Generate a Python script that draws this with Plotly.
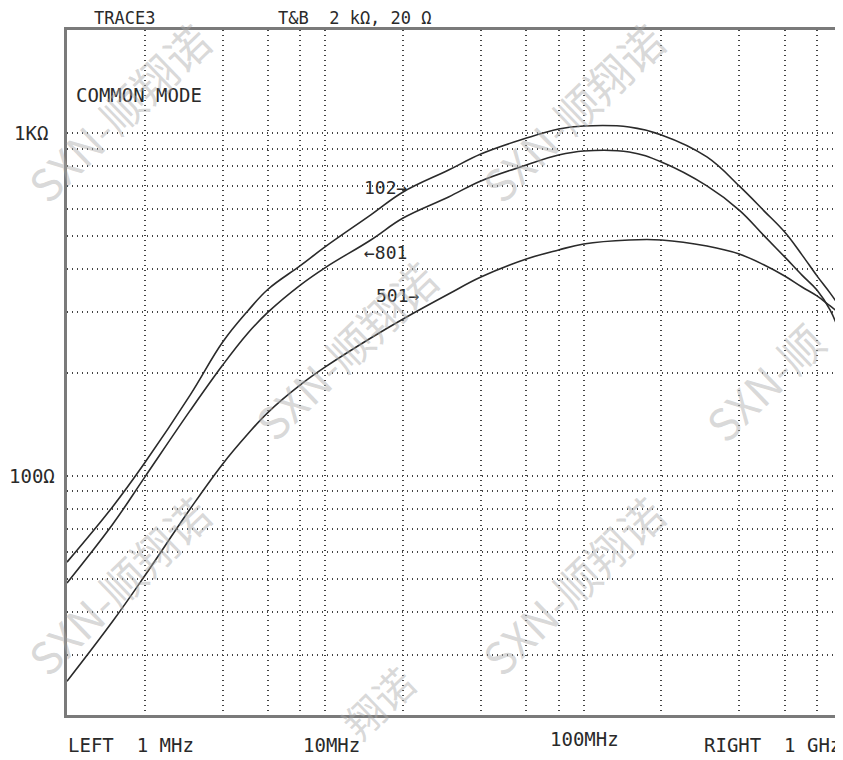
import numpy as np
import plotly.graph_objects as go

# ---- data (frequency in MHz, impedance in ohms) ----
freq_mhz = [1, 1.5, 2, 3, 4, 5, 6, 8, 10, 15, 20, 30, 40, 60, 80, 100,
            150, 200, 300, 400, 500, 600, 700, 800, 900, 1000]
z_102 = [55.9, 81, 109, 172, 245, 302, 350, 410, 466, 577, 673, 780, 869,
         967, 1028, 1049, 1042, 988, 852, 701, 592, 514, 441, 383, 341, 304]
z_801 = [48.6, 72, 99, 155, 210, 260, 300, 360, 405, 487.5, 565, 651, 725,
         807, 863, 887, 881, 823, 701, 596, 501, 435, 385, 348, 304, 252]
z_501 = [25.1, 37.5, 51, 80, 108, 132, 153, 184, 207.6, 252.2, 286.6, 339, 380,
         429, 456, 474.6, 487.5, 487.5, 468, 443.6, 412, 382.6, 355.3, 334.6, 312.8, 294.4]
series_names = ["102", "801", "501"]

x_grid_mhz = [2, 4, 6, 8, 10, 20, 40, 60, 80, 100, 200, 400, 600, 800]
y_grid = [30, 40, 50, 60, 70, 80, 90, 100, 200, 300, 400, 500, 600, 700, 800, 900, 1000]

x_labels = ["LEFT\u00a0\u00a01\u00a0MHz", "10MHz", "100MHz", "RIGHT\u00a0\u00a01\u00a0GHz"]
y_labels = ["1K\u03a9", "100\u03a9"]
header_left = "TRACE3"
header_right = "T&B\u00a0\u00a02\u00a0k\u03a9,\u00a020\u00a0\u03a9"
mode_label = "COMMON\u00a0MODE"
curve_labels = ["102\u2192", "\u2190801", "501\u2192"]
watermark = "SXN-\u987a\u7fd4\u8bfa"
watermark_right = "SXN-\u987a"
watermark_bottom = "\u7fd4\u8bfa"

# ---- geometry (reference pixels; the page body adds an 8px margin) ----
OFF = 8
W, H = 843 - OFF, 760 - OFF
L, R, T, B = 67 - OFF, 842 - OFF, 30 - OFF, 715 - OFF


def pxx(x):
    return (x - OFF - L) / (R - L)


def pxy(y):
    return (B - (y - OFF)) / (B - T)


fig = go.Figure()
freq_hz = [f * 1e6 for f in freq_mhz]
for name, z in zip(series_names, [z_102, z_801, z_501]):
    fig.add_trace(go.Scatter(x=freq_hz, y=z, mode="lines", name=name,
                             line=dict(color="#2a2a2a", width=1.6, shape="spline", smoothing=1.1),
                             showlegend=False, hoverinfo="skip"))

mono = "DejaVu Sans Mono"
tcol = "#2a2a2a"
anns = []


def add_text(text, x, y, xanchor="left", size=19):
    anns.append(dict(text=text, x=pxx(x), y=pxy(y), xref="paper", yref="paper",
                     xanchor=xanchor, yanchor="middle", showarrow=False,
                     font=dict(family=mono, size=size, color=tcol)))


add_text(header_left, 92, 18, size=17)
add_text(header_right, 276, 18, size=17)
add_text(mode_label, 74, 95)
add_text(y_labels[0], 50, 133, xanchor="right")
add_text(y_labels[1], 57, 476, xanchor="right")
add_text(x_labels[0], 66, 745)
add_text(x_labels[1], 331, 745, xanchor="center")
add_text(x_labels[2], 584, 739, xanchor="center")
add_text(x_labels[3], 843, 745, xanchor="right")
add_text(curve_labels[0], 362, 187, size=18)
add_text(curve_labels[1], 362, 253, size=18)
add_text(curve_labels[2], 374, 295, size=18)

# watermark
for (txt, cx, cy, sz) in [(watermark, 118, 112, 44), (watermark, 572, 112, 44), (watermark, 345, 350, 44),
                          (watermark_right, 764, 382, 44), (watermark, 118, 585, 44),
                          (watermark, 572, 585, 44), (watermark_bottom, 378, 702, 40)]:
    anns.append(dict(text=txt, x=pxx(cx), y=pxy(cy), xref="paper", yref="paper",
                     xanchor="center", yanchor="middle", showarrow=False, textangle=-44,
                     font=dict(family="Noto Sans CJK SC", size=sz, color="rgba(170,170,170,0.45)")))

fig.update_layout(
    width=W, height=H,
    margin=dict(l=L, r=W - R, t=T, b=H - B),
    paper_bgcolor="white", plot_bgcolor="white",
    annotations=anns,
)
fig.update_xaxes(type="log", range=[6, 9], tickvals=[f * 1e6 for f in x_grid_mhz],
                 showticklabels=False, ticks="", showgrid=True, gridcolor="#444444",
                 gridwidth=1.5, griddash="1px,4px", zeroline=False,
                 showline=True, linecolor="#7a7a7a", linewidth=2.5, mirror=True)
fig.update_yaxes(type="log", range=[np.log10(20), np.log10(2000)], tickvals=y_grid,
                 showticklabels=False, ticks="", showgrid=True, gridcolor="#444444",
                 gridwidth=1.5, griddash="1px,4px", zeroline=False,
                 showline=True, linecolor="#7a7a7a", linewidth=2.5, mirror=False)

fig.write_html("out.html")
